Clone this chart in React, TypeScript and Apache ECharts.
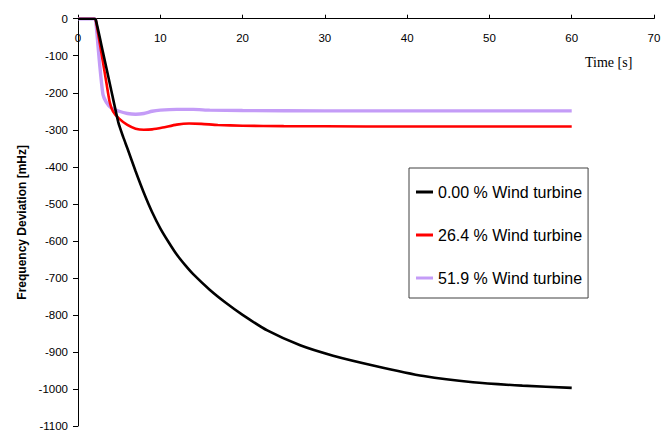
import React, { useEffect, useRef } from "react";
import * as echarts from "echarts";

const seriesNames = ["0.00 % Wind turbine", "26.4 % Wind turbine", "51.9 % Wind turbine"];
const seriesColors = ["#000000", "#ff0000", "#c49cf7"];

const wind0: [number, number][] = [
  [0, 0], [2.0, 0], [2.15, -2], [3, -87], [4, -189], [4.9, -280], [5.5, -320], [6, -350], [7, -412],
  [8, -470], [9, -522], [10, -566], [11, -603], [12, -637], [13, -665], [14, -690],
  [16, -732], [18, -768], [20, -800], [23, -842], [27, -882], [31, -910], [36, -937],
  [42, -965], [48, -982], [54, -991], [60, -997],
];

const wind26: [number, number][] = [
  [0, 0], [2.0, 0], [2.15, -3], [3, -113], [3.45, -173], [3.85, -225], [4.25, -250], [5, -270],
  [6, -287], [7, -297], [8, -300], [9, -299], [10.3, -294], [12, -286], [13.5, -283],
  [15, -284], [17, -287], [20, -289], [25, -290], [35, -291], [60, -291],
];

const wind52: [number, number][] = [
  [0, 0], [2.0, 0], [2.15, -5], [2.64, -125], [3.04, -205], [3.45, -226], [4, -240], [5, -250],
  [6, -256], [7, -258], [8, -256], [9, -250], [10, -247], [12, -245], [14, -245],
  [16, -247], [20, -248], [30, -249], [60, -249],
];

const xTicks = { min: 0, max: 70, interval: 10 };
const yTicks = { min: -1100, max: 0, interval: 100 };

export default function App() {
  const ref = useRef<HTMLDivElement>(null);
  useEffect(() => {
    if (!ref.current) return;
    const chart = echarts.init(ref.current, undefined, { renderer: "svg" });
    const data = [wind0, wind26, wind52];
    const widths = [2.6, 2.6, 3.4];
    chart.setOption({
      animation: false,
      backgroundColor: "#ffffff",
      grid: { left: 78, right: 17, top: 18.7, bottom: 3.3 },
      xAxis: {
        type: "value",
        position: "top",
        min: xTicks.min,
        max: xTicks.max,
        interval: xTicks.interval,
        axisLine: { onZero: false, lineStyle: { color: "#000", width: 1 } },
        axisTick: { show: true, inside: false, length: 4, lineStyle: { color: "#000" } },
        axisLabel: {
          inside: true,
          margin: 13,
          color: "#000",
          fontFamily: "Liberation Sans, Arial, sans-serif",
          fontSize: 11.5,
        },
        splitLine: { show: false },
      },
      yAxis: {
        type: "value",
        min: yTicks.min,
        max: yTicks.max,
        interval: yTicks.interval,
        name: "Frequency Deviation [mHz]",
        nameLocation: "middle",
        nameGap: 42,
        nameTextStyle: {
          color: "#000",
          fontWeight: "bold",
          fontFamily: "Liberation Sans, Arial, sans-serif",
          fontSize: 12,
        },
        axisLine: { show: true, lineStyle: { color: "#000", width: 1 } },
        axisTick: { show: true, length: 5, lineStyle: { color: "#000" } },
        axisLabel: {
          margin: 10,
          color: "#000",
          fontFamily: "Liberation Sans, Arial, sans-serif",
          fontSize: 11.5,
          formatter: (v: number) => String(v),
        },
        splitLine: { show: false },
      },
      legend: {
        orient: "vertical",
        left: 409,
        top: 168,
        borderColor: "#404040",
        borderWidth: 1,
        padding: [14, 6, 10, 7],
        itemGap: 23,
        itemWidth: 17,
        itemHeight: 3,
        icon: "rect",
        textStyle: {
          color: "#000",
          fontFamily: "Liberation Sans, Arial, sans-serif",
          fontSize: 16,
          lineHeight: 20,
        },
        data: seriesNames,
      },
      graphic: [
        {
          type: "text",
          left: 585,
          top: 55,
          style: {
            text: "Time [s]",
            fill: "#000",
            font: "14px 'Liberation Serif', 'Times New Roman', serif",
          },
        },
      ],
      series: data.map((d, i) => ({
        name: seriesNames[i],
        type: "line",
        data: d,
        showSymbol: false,
        symbol: "none",
        smooth: 0.2,
        color: seriesColors[i],
        lineStyle: { color: seriesColors[i], width: widths[i] },
        z: 3 - i,
      })),
    });
    return () => chart.dispose();
  }, []);
  return (
    <div
      ref={ref}
      style={{ position: "fixed", left: 0, top: 0, width: 671, height: 432 }}
    />
  );
}
